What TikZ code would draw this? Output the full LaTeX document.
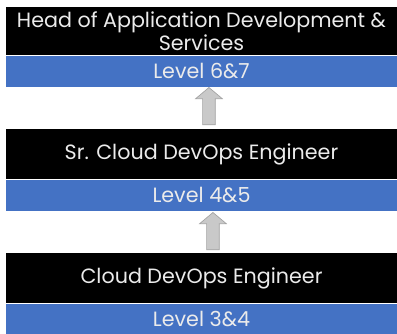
\documentclass[tikz,border=0pt]{standalone}
\usepackage{fontspec}
\setmainfont{Poppins}
\usetikzlibrary{positioning,shapes.arrows}
\definecolor{lvlblue}{HTML}{4472C4}
\definecolor{upgray}{HTML}{C9C9C9}
\definecolor{upedge}{HTML}{A3A3A3}

\begin{document}
\begin{tikzpicture}[
    x=1pt, y=1pt,
    role/.style={fill=black, text=white!92!black, minimum width=293.25pt,
        minimum height=37.5pt, inner sep=0pt, align=center,
        font=\fontsize{15.5}{17.5}\selectfont},
    level/.style={fill=lvlblue, text=white!92!black, minimum width=293.25pt,
        minimum height=23.25pt, inner sep=0pt,
        font=\fontsize{15.5}{17.5}\selectfont},
    promo/.style={single arrow, shape border rotate=90, fill=upgray,
        draw=upedge, line width=0.5pt, minimum height=28pt,
        minimum width=19.5pt, inner sep=4.5pt, single arrow head extend=5.25pt,
        single arrow tip angle=100, anchor=tip}
]
\useasboundingbox[fill=white] (0,0) rectangle (297.75,250.5);

\node[role, anchor=north, minimum height=36pt] (head) at (151.125,245.25)
    {Head of Application Development \&\\ Services};
\node[level, below=0pt of head] (l67) {Level 6\&7};

\node[role, anchor=north] (senior) at (151.125,153.75) {Sr. Cloud DevOps Engineer};
\node[level, below=0pt of senior] (l45) {Level 4\&5};

\node[role, anchor=north] (eng) at (151.125,60.75) {Cloud DevOps Engineer};
\node[level, below=0pt of eng] (l34) {Level 3\&4};

% promotion arrows
\node[promo] (up1) at ([xshift=5.6pt]l67.south) {};
\node[promo] (up2) at ([xshift=8.6pt,yshift=-0.75pt]l45.south) {};

\end{tikzpicture}
\end{document}
